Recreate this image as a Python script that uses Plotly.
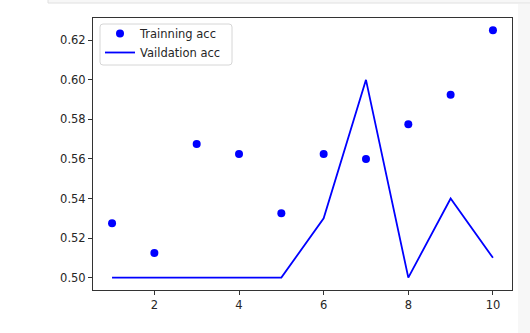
import plotly.graph_objects as go

epochs = [1, 2, 3, 4, 5, 6, 7, 8, 9, 10]
train_acc = [0.5275, 0.5125, 0.5675, 0.5625, 0.5325, 0.5625, 0.56, 0.5775, 0.5925, 0.625]
val_acc = [0.50, 0.50, 0.50, 0.50, 0.50, 0.53, 0.60, 0.50, 0.54, 0.51]
x_ticks = [2, 4, 6, 8, 10]
y_ticks = [0.50, 0.52, 0.54, 0.56, 0.58, 0.60, 0.62]

W, H = 530, 333
L, R, T, B = 93, 18, 18, 43
pw, ph = W - L - R, H - T - B

def px(x):
    return (x - L) / pw

def py(y):
    return (H - B - y) / ph

fig = go.Figure()
fig.add_trace(go.Scatter(x=epochs, y=train_acc, mode="markers", name="Trainning acc",
                         marker=dict(color="#0000ff", size=8)))
fig.add_trace(go.Scatter(x=epochs, y=val_acc, mode="lines", name="Vaildation acc",
                         line=dict(color="#0000ff", width=1.8)))

axis_common = dict(showgrid=False, zeroline=False, showline=True, linecolor="#333333",
                   linewidth=1, mirror=True, ticks="outside", ticklen=4, tickcolor="#333333",
                   tickfont=dict(family="DejaVu Sans", size=11.5, color="#262626"))

fig.update_xaxes(range=[0.55, 10.45], tickvals=x_ticks, ticktext=[str(v) for v in x_ticks], **axis_common)
fig.update_yaxes(range=[0.49375, 0.63125], tickvals=y_ticks, ticktext=[f"{v:.2f}" for v in y_ticks], **axis_common)

fig.add_shape(type="rect", xref="paper", yref="paper", x0=px(48), x1=px(531), y0=py(-2), y1=py(3),
              fillcolor="#f7f7f7", line=dict(color="#e0e0e0", width=1), layer="below")
fig.add_shape(type="rect", xref="paper", yref="paper", x0=px(518), x1=px(531), y0=py(4), y1=py(334),
              fillcolor="#f7f7f7", line=dict(width=0), layer="below")

# rounded legend frame (matplotlib style)
bx0, bx1, by0, by1, r = 100, 232, 24, 65, 3
path = (f"M {px(bx0 + r)},{py(by0)} L {px(bx1 - r)},{py(by0)} "
        f"Q {px(bx1)},{py(by0)} {px(bx1)},{py(by0 + r)} L {px(bx1)},{py(by1 - r)} "
        f"Q {px(bx1)},{py(by1)} {px(bx1 - r)},{py(by1)} L {px(bx0 + r)},{py(by1)} "
        f"Q {px(bx0)},{py(by1)} {px(bx0)},{py(by1 - r)} L {px(bx0)},{py(by0 + r)} "
        f"Q {px(bx0)},{py(by0)} {px(bx0 + r)},{py(by0)} Z")
fig.add_shape(type="path", xref="paper", yref="paper", path=path,
              fillcolor="rgba(255,255,255,0.8)", line=dict(color="#d6d6d6", width=1), layer="above")

fig.update_layout(
    width=W, height=H,
    margin=dict(l=L, r=R, t=T, b=B),
    paper_bgcolor="white", plot_bgcolor="white",
    font=dict(family="DejaVu Sans", size=11.5, color="#262626"),
    legend=dict(x=px(100), y=py(19), xanchor="left", yanchor="top",
                bgcolor="rgba(0,0,0,0)", borderwidth=0,
                font=dict(family="DejaVu Sans", size=11.5, color="#262626"),
                tracegroupgap=0),
    showlegend=True,
)

fig.write_html("out.html")
